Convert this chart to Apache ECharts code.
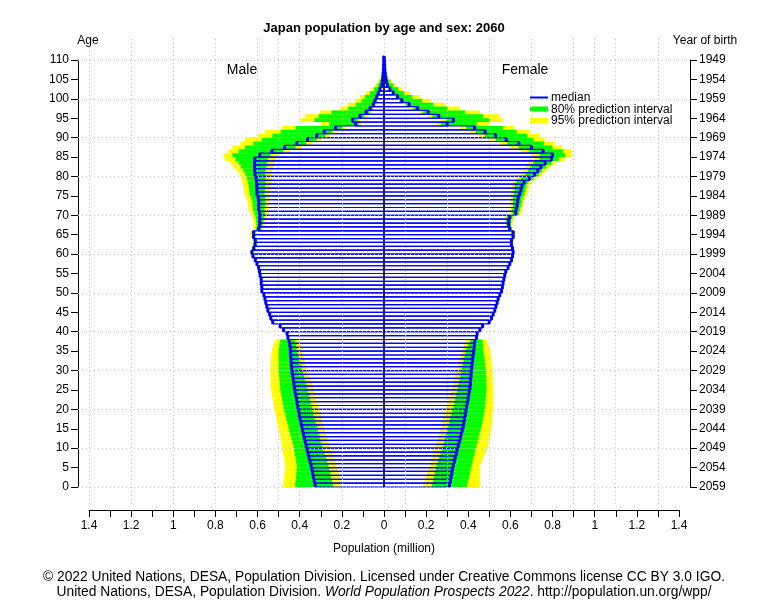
<!DOCTYPE html>
<html>
<head>
<meta charset="utf-8">
<title>Japan population by age and sex: 2060</title>
<script src="https://cdn.jsdelivr.net/npm/echarts@6/dist/echarts.min.js"></script>
<style>
html, body { margin: 0; padding: 0; background: #fff; }
#chart { width: 768px; height: 613px; }
</style>
</head>
<body>
<div id="chart"></div>
<script>
// population in millions, index = age 0..110
const maleMedian = [
  0.327,0.331,0.335,0.339,0.342,0.346,0.351,0.356,0.360,0.365,
  0.369,0.373,0.378,0.382,0.386,0.390,0.394,0.398,0.402,0.405,
  0.409,0.412,0.415,0.419,0.422,0.425,0.428,0.430,0.433,0.436,
  0.438,0.440,0.441,0.443,0.444,0.445,0.447,0.450,0.456,0.460,
  0.477,0.493,0.528,0.537,0.543,0.551,0.556,0.561,0.565,0.570,
  0.580,0.580,0.583,0.583,0.588,0.591,0.595,0.603,0.611,0.622,
  0.627,0.618,0.612,0.611,0.619,0.619,0.595,0.590,0.590,0.590,
  0.590,0.595,0.595,0.595,0.597,0.603,0.603,0.604,0.605,0.607,
  0.612,0.614,0.615,0.615,0.613,0.590,0.532,0.472,0.414,0.363,
  0.319,0.284,0.230,0.135,0.149,0.114,0.085,0.066,0.051,0.043,
  0.035,0.027,0.019,0.011,0.008,0.005,0.004,0.003,0.002,0.001,
  0.001];
const maleHi95 = [
  0.478,0.476,0.474,0.472,0.470,0.469,0.472,0.475,0.479,0.482,
  0.485,0.488,0.491,0.495,0.498,0.501,0.505,0.509,0.513,0.517,
  0.521,0.524,0.527,0.531,0.534,0.537,0.538,0.539,0.540,0.540,
  0.540,0.539,0.538,0.536,0.534,0.532,0.526,0.517,0.461,0.465,
  0.482,0.498,0.533,0.542,0.548,0.556,0.561,0.566,0.570,0.575,
  0.585,0.585,0.588,0.588,0.593,0.596,0.601,0.609,0.617,0.629,
  0.636,0.630,0.624,0.624,0.633,0.634,0.618,0.616,0.620,0.625,
  0.632,0.642,0.645,0.648,0.653,0.662,0.665,0.668,0.672,0.678,
  0.685,0.698,0.715,0.730,0.755,0.763,0.739,0.720,0.682,0.659,
  0.597,0.564,0.483,0.300,0.398,0.374,0.303,0.209,0.170,0.137,
  0.114,0.085,0.060,0.040,0.027,0.018,0.012,0.008,0.005,0.003,
  0.002];
const maleHi80 = [
  0.422,0.420,0.418,0.416,0.415,0.414,0.417,0.420,0.424,0.427,
  0.430,0.435,0.440,0.445,0.450,0.454,0.459,0.464,0.468,0.473,
  0.477,0.480,0.484,0.487,0.490,0.493,0.495,0.496,0.498,0.499,
  0.500,0.500,0.500,0.500,0.500,0.500,0.497,0.493,0.459,0.463,
  0.480,0.496,0.531,0.540,0.546,0.554,0.559,0.564,0.568,0.573,
  0.583,0.583,0.586,0.586,0.591,0.594,0.598,0.606,0.614,0.625,
  0.631,0.625,0.619,0.618,0.626,0.627,0.608,0.605,0.607,0.610,
  0.615,0.622,0.624,0.626,0.630,0.638,0.640,0.643,0.646,0.651,
  0.658,0.668,0.680,0.690,0.705,0.720,0.690,0.660,0.620,0.580,
  0.530,0.490,0.420,0.260,0.330,0.310,0.250,0.170,0.135,0.108,
  0.090,0.066,0.047,0.031,0.021,0.014,0.009,0.006,0.004,0.002,
  0.001];
const maleLo80 = [
  0.243,0.247,0.251,0.255,0.260,0.264,0.270,0.276,0.283,0.289,
  0.295,0.300,0.305,0.310,0.314,0.319,0.324,0.329,0.334,0.338,
  0.343,0.348,0.352,0.357,0.361,0.366,0.371,0.376,0.380,0.385,
  0.390,0.395,0.400,0.405,0.410,0.414,0.418,0.422,0.453,0.457,
  0.474,0.490,0.525,0.534,0.540,0.548,0.553,0.558,0.562,0.567,
  0.577,0.577,0.580,0.580,0.585,0.588,0.592,0.600,0.607,0.618,
  0.622,0.612,0.606,0.604,0.611,0.611,0.583,0.576,0.573,0.570,
  0.566,0.568,0.566,0.564,0.564,0.568,0.566,0.565,0.564,0.563,
  0.565,0.562,0.560,0.556,0.552,0.540,0.480,0.420,0.370,0.320,
  0.280,0.245,0.200,0.120,0.125,0.095,0.070,0.054,0.041,0.034,
  0.027,0.021,0.014,0.008,0.006,0.004,0.003,0.002,0.001,0.001,
  0];
const maleLo95 = [
  0.202,0.206,0.210,0.215,0.219,0.224,0.230,0.237,0.243,0.250,
  0.256,0.262,0.268,0.273,0.279,0.284,0.290,0.295,0.300,0.306,
  0.311,0.316,0.321,0.326,0.330,0.335,0.341,0.347,0.354,0.360,
  0.366,0.371,0.376,0.380,0.385,0.390,0.396,0.401,0.451,0.455,
  0.472,0.488,0.523,0.532,0.538,0.546,0.551,0.556,0.560,0.565,
  0.575,0.575,0.578,0.578,0.583,0.586,0.589,0.597,0.604,0.615,
  0.618,0.607,0.601,0.599,0.606,0.605,0.574,0.566,0.561,0.556,
  0.550,0.550,0.546,0.543,0.541,0.544,0.540,0.538,0.535,0.532,
  0.532,0.528,0.524,0.518,0.512,0.500,0.445,0.390,0.340,0.295,
  0.255,0.222,0.180,0.108,0.110,0.082,0.060,0.046,0.035,0.029,
  0.023,0.017,0.012,0.007,0.005,0.003,0.002,0.001,0.001,0,
  0];

const femaleMedian = [
  0.311,0.315,0.318,0.322,0.325,0.329,0.334,0.338,0.343,0.347,
  0.352,0.357,0.362,0.366,0.371,0.376,0.379,0.382,0.386,0.389,
  0.392,0.395,0.399,0.402,0.405,0.408,0.410,0.411,0.413,0.414,
  0.416,0.418,0.420,0.422,0.425,0.427,0.429,0.431,0.439,0.442,
  0.455,0.468,0.499,0.510,0.518,0.526,0.531,0.537,0.542,0.550,
  0.558,0.562,0.565,0.569,0.573,0.578,0.589,0.597,0.605,0.610,
  0.613,0.610,0.605,0.605,0.613,0.613,0.597,0.592,0.592,0.597,
  0.625,0.628,0.632,0.635,0.637,0.645,0.650,0.655,0.665,0.690,
  0.715,0.730,0.745,0.765,0.795,0.800,0.755,0.700,0.640,0.580,
  0.530,0.480,0.430,0.300,0.330,0.260,0.210,0.160,0.120,0.085,
  0.065,0.044,0.028,0.016,0.011,0.008,0.006,0.004,0.003,0.002,
  0.001];
const femaleHi95 = [
  0.455,0.455,0.455,0.455,0.455,0.455,0.463,0.470,0.478,0.486,
  0.494,0.497,0.500,0.504,0.507,0.510,0.512,0.513,0.515,0.516,
  0.518,0.518,0.518,0.518,0.518,0.518,0.517,0.517,0.516,0.516,
  0.515,0.513,0.510,0.508,0.505,0.502,0.496,0.490,0.444,0.447,
  0.460,0.473,0.504,0.515,0.523,0.531,0.536,0.542,0.547,0.555,
  0.563,0.567,0.570,0.574,0.578,0.583,0.594,0.602,0.611,0.616,
  0.620,0.618,0.614,0.615,0.625,0.626,0.612,0.609,0.612,0.619,
  0.650,0.655,0.660,0.665,0.670,0.680,0.686,0.690,0.700,0.725,
  0.750,0.770,0.790,0.815,0.858,0.891,0.891,0.844,0.810,0.763,
  0.739,0.692,0.620,0.500,0.564,0.550,0.455,0.360,0.289,0.220,
  0.170,0.120,0.085,0.055,0.035,0.022,0.015,0.010,0.006,0.004,
  0.002];
const femaleHi80 = [
  0.395,0.399,0.403,0.408,0.412,0.416,0.421,0.425,0.430,0.434,
  0.439,0.444,0.449,0.453,0.458,0.463,0.466,0.470,0.473,0.476,
  0.479,0.481,0.482,0.484,0.485,0.487,0.486,0.486,0.485,0.484,
  0.483,0.481,0.478,0.476,0.473,0.471,0.470,0.468,0.442,0.445,
  0.458,0.471,0.502,0.513,0.521,0.529,0.534,0.540,0.545,0.553,
  0.561,0.565,0.568,0.572,0.576,0.581,0.592,0.600,0.608,0.613,
  0.616,0.614,0.609,0.610,0.620,0.620,0.606,0.602,0.604,0.610,
  0.640,0.645,0.650,0.655,0.658,0.667,0.672,0.676,0.685,0.710,
  0.735,0.750,0.770,0.795,0.830,0.860,0.850,0.800,0.760,0.710,
  0.680,0.630,0.565,0.440,0.500,0.470,0.385,0.300,0.235,0.180,
  0.135,0.095,0.066,0.043,0.027,0.017,0.012,0.008,0.005,0.003,
  0.002];
const femaleLo80 = [
  0.229,0.233,0.237,0.242,0.246,0.250,0.256,0.262,0.269,0.275,
  0.281,0.286,0.291,0.295,0.300,0.305,0.310,0.315,0.319,0.324,
  0.329,0.334,0.338,0.343,0.347,0.352,0.355,0.358,0.362,0.365,
  0.368,0.373,0.378,0.382,0.387,0.392,0.400,0.408,0.436,0.439,
  0.452,0.465,0.496,0.507,0.515,0.523,0.528,0.534,0.539,0.547,
  0.555,0.559,0.562,0.566,0.570,0.575,0.586,0.594,0.602,0.607,
  0.610,0.606,0.601,0.600,0.606,0.605,0.588,0.582,0.580,0.583,
  0.610,0.610,0.612,0.613,0.613,0.618,0.620,0.622,0.628,0.650,
  0.672,0.683,0.695,0.710,0.740,0.740,0.690,0.640,0.585,0.530,
  0.480,0.435,0.390,0.270,0.295,0.230,0.185,0.140,0.104,0.074,
  0.056,0.038,0.024,0.014,0.009,0.006,0.005,0.003,0.002,0.001,
  0];
const femaleLo95 = [
  0.186,0.192,0.199,0.205,0.212,0.218,0.223,0.229,0.234,0.237,
  0.242,0.249,0.255,0.262,0.265,0.269,0.275,0.280,0.286,0.291,
  0.297,0.302,0.308,0.313,0.319,0.324,0.328,0.332,0.337,0.341,
  0.345,0.350,0.356,0.362,0.367,0.373,0.381,0.389,0.434,0.437,
  0.450,0.463,0.494,0.505,0.513,0.521,0.526,0.532,0.537,0.545,
  0.553,0.557,0.560,0.564,0.568,0.573,0.584,0.592,0.599,0.604,
  0.606,0.602,0.596,0.595,0.601,0.600,0.582,0.575,0.572,0.574,
  0.600,0.600,0.600,0.600,0.600,0.603,0.605,0.605,0.610,0.630,
  0.650,0.660,0.670,0.685,0.710,0.700,0.650,0.600,0.550,0.495,
  0.450,0.405,0.360,0.250,0.270,0.210,0.168,0.127,0.094,0.066,
  0.050,0.034,0.021,0.012,0.008,0.005,0.004,0.002,0.001,0.001,
  0];

const projYear = 2060;
const gridX = [-1.4, -1.2, -1.0, -0.8, -0.6, -0.5, -0.4, -0.2, 0, 0.1, 0.3, 0.5, 0.7, 0.9, 1.0, 1.1, 1.3];
const gridY = [0, 10, 20, 30, 40, 50, 60, 70, 80, 90, 100, 110];
const topAge = 111;

const FONT = '"Liberation Sans", Arial, Helvetica, sans-serif';

// males are plotted on the negative side
const yellowData = [], greenData = [], barData = [], medianData = [];
for (let a = 0; a < maleMedian.length; a++) {
  yellowData.push([a, -maleHi95[a], -maleLo95[a]], [a, femaleLo95[a], femaleHi95[a]]);
  greenData.push([a, -maleHi80[a], -maleLo80[a]], [a, femaleLo80[a], femaleHi80[a]]);
  barData.push([a, -maleMedian[a], 0], [a, 0, femaleMedian[a]]);
  medianData.push([a, -maleMedian[a]], [a, femaleMedian[a]]);
}

function bandRenderer(color) {
  return function (params, api) {
    const a = api.value(0);
    const p1 = api.coord([api.value(1), a + 1]);
    const p2 = api.coord([api.value(2), a]);
    return {
      type: 'rect',
      shape: { x: p1[0], y: p1[1], width: p2[0] - p1[0], height: p2[1] - p1[1] },
      style: { fill: color, stroke: null }
    };
  };
}

function renderBar(params, api) {
  const a = api.value(0);
  const p1 = api.coord([api.value(1), a + 1]);
  const p2 = api.coord([api.value(2), a]);
  return {
    type: 'rect',
    shape: { x: p1[0], y: p1[1], width: p2[0] - p1[0], height: p2[1] - p1[1] },
    style: { fill: 'rgba(255,255,255,0)', stroke: '#0000ff', lineWidth: 1.2 }
  };
}

function renderMedian(params, api) {
  const a = api.value(0);
  const top = api.coord([api.value(1), a + 1]);
  const bot = api.coord([api.value(1), a]);
  return {
    type: 'line',
    shape: { x1: top[0], y1: top[1], x2: bot[0], y2: bot[1] },
    style: { stroke: '#0000ff', lineWidth: 3, fill: null }
  };
}

const chart = echarts.init(document.getElementById('chart'));

const axisBlack = { lineStyle: { color: '#000', width: 1 } };

chart.setOption({
  animation: false,
  backgroundColor: '#fff',
  title: {
    text: 'Japan population by age and sex: ' + projYear,
    left: 'center',
    top: 17,
    textStyle: { fontFamily: FONT, fontSize: 13, fontWeight: 'bold', color: '#000' }
  },
  grid: [
    { left: 78, right: 78, top: 39, bottom: 109 },   // data area
    { left: 89, right: 89, top: 60, bottom: 103 },   // bottom population axis
    { left: 78, right: 78, top: 60, bottom: 126 }    // age / year-of-birth axes
  ],
  xAxis: [
    { type: 'value', gridIndex: 0, min: -1.4525, max: 1.4525, show: false },
    {
      type: 'value', gridIndex: 1, min: -1.4, max: 1.4, interval: 0.1, position: 'bottom',
      axisLine: { show: true, onZero: false, lineStyle: { color: '#000', width: 1 } },
      axisTick: { show: true, length: 7, lineStyle: { color: '#000' } },
      splitLine: { show: false },
      axisLabel: {
        margin: 10, color: '#000', fontSize: 12, fontFamily: FONT,
        formatter: function (v) {
          const t = Math.round(Math.abs(v) * 10);
          return t % 2 ? '' : String(t / 10);
        }
      }
    },
    { type: 'value', gridIndex: 2, min: -1, max: 1, show: false }
  ],
  yAxis: [
    { type: 'value', gridIndex: 0, min: -4.379, max: 115.41, show: false },
    { type: 'value', gridIndex: 1, min: 0, max: 1, show: false },
    {
      type: 'value', gridIndex: 2, min: 0, max: 110, interval: 5, position: 'left',
      axisLine: Object.assign({ show: true, onZero: false }, axisBlack),
      axisTick: { show: true, length: 7, lineStyle: { color: '#000' } },
      splitLine: { show: false },
      axisLabel: { margin: 9, color: '#000', fontSize: 12, fontFamily: FONT }
    },
    {
      type: 'value', gridIndex: 2, min: 0, max: 110, interval: 5, position: 'right',
      axisLine: Object.assign({ show: true, onZero: false }, axisBlack),
      axisTick: { show: true, length: 7, lineStyle: { color: '#000' } },
      splitLine: { show: false },
      axisLabel: {
        margin: 9, color: '#000', fontSize: 12, fontFamily: FONT,
        formatter: function (v) { return String(projYear - 1 - v); }
      }
    }
  ],
  series: [
    {
      type: 'line', xAxisIndex: 0, yAxisIndex: 0, data: [], silent: true, z: 1,
      markLine: {
        silent: true, symbol: 'none', animation: false,
        label: { show: false },
        lineStyle: { color: '#c4c4c4', type: [1, 3], width: 1 },
        data: gridX.map(v => ({ xAxis: v })).concat(gridY.map(v => ({ yAxis: v })))
      }
    },
    {
      name: '95% prediction interval', type: 'custom', xAxisIndex: 0, yAxisIndex: 0, z: 2,
      renderItem: bandRenderer('#ffff00'), encode: { x: [1, 2], y: 0 }, data: yellowData
    },
    {
      name: '80% prediction interval', type: 'custom', xAxisIndex: 0, yAxisIndex: 0, z: 3,
      renderItem: bandRenderer('#00ff00'), encode: { x: [1, 2], y: 0 }, data: greenData
    },
    {
      name: 'population', type: 'custom', xAxisIndex: 0, yAxisIndex: 0, z: 4,
      renderItem: renderBar, encode: { x: [1, 2], y: 0 }, data: barData
    },
    {
      name: 'median', type: 'custom', xAxisIndex: 0, yAxisIndex: 0, z: 5,
      renderItem: renderMedian, encode: { x: 1, y: 0 }, data: medianData,
      markLine: {
        silent: true, symbol: 'none', animation: false,
        label: { show: false },
        lineStyle: { color: '#1a1a80', type: 'solid', width: 2 },
        data: [[{ coord: [0, 0] }, { coord: [0, topAge] }]]
      }
    }
  ],
  graphic: [
    { type: 'text', x: 88, y: 41, style: { text: 'Age', font: '12px ' + FONT, fill: '#000', align: 'center', verticalAlign: 'middle' } },
    { type: 'text', x: 705, y: 41, style: { text: 'Year of birth', font: '12px ' + FONT, fill: '#000', align: 'center', verticalAlign: 'middle' } },
    { type: 'text', x: 242, y: 70, style: { text: 'Male', font: '14px ' + FONT, fill: '#000', align: 'center', verticalAlign: 'middle' } },
    { type: 'text', x: 525, y: 70, style: { text: 'Female', font: '14px ' + FONT, fill: '#000', align: 'center', verticalAlign: 'middle' } },
    { type: 'line', shape: { x1: 530, y1: 97.5, x2: 548, y2: 97.5 }, style: { stroke: '#0000ff', lineWidth: 2 } },
    { type: 'line', shape: { x1: 530, y1: 109, x2: 548, y2: 109 }, style: { stroke: '#00ff00', lineWidth: 5 } },
    { type: 'line', shape: { x1: 530, y1: 120.5, x2: 548, y2: 120.5 }, style: { stroke: '#ffff00', lineWidth: 5 } },
    { type: 'text', x: 551, y: 98, style: { text: 'median', font: '12px ' + FONT, fill: '#000', verticalAlign: 'middle' } },
    { type: 'text', x: 551, y: 109.5, style: { text: '80% prediction interval', font: '12px ' + FONT, fill: '#000', verticalAlign: 'middle' } },
    { type: 'text', x: 551, y: 121, style: { text: '95% prediction interval', font: '12px ' + FONT, fill: '#000', verticalAlign: 'middle' } },
    { type: 'text', x: 384, y: 549, style: { text: 'Population (million)', font: '12px ' + FONT, fill: '#000', align: 'center', verticalAlign: 'middle' } },
    {
      type: 'text', x: 384, y: 577,
      style: {
        text: '\u00a9 2022 United Nations, DESA, Population Division. Licensed under Creative Commons license CC BY 3.0 IGO.',
        font: '13.8px ' + FONT, fill: '#000', align: 'center', verticalAlign: 'middle'
      }
    },
    {
      type: 'text', x: 384, y: 592,
      style: {
        text: '{n|United Nations, DESA, Population Division. }{i|World Population Prospects 2022}{n|. http://population.un.org/wpp/}',
        align: 'center', verticalAlign: 'middle',
        rich: {
          n: { fontFamily: FONT, fontSize: 13.8, fill: '#000', color: '#000' },
          i: { fontFamily: FONT, fontSize: 13.8, fontStyle: 'italic', fill: '#000', color: '#000' }
        }
      }
    }
  ]
});
</script>
</body>
</html>
